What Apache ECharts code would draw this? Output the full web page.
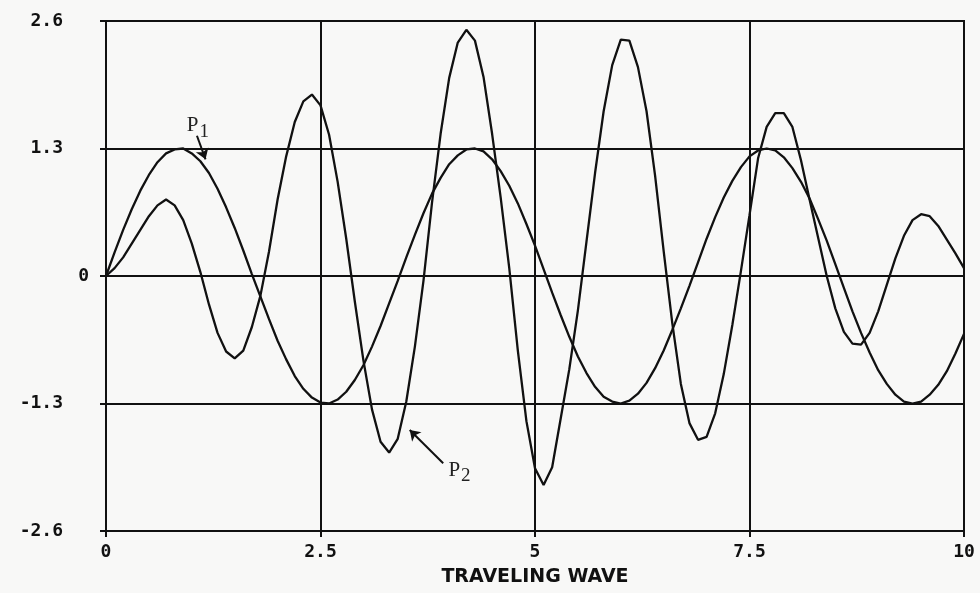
<!DOCTYPE html>
<html>
<head>
<meta charset="utf-8">
<script src="https://cdn.jsdelivr.net/npm/echarts@6/dist/echarts.min.js"></script>
<style>
html,body{margin:0;padding:0;background:#f8f8f7;}
#c{width:980px;height:593px;}
</style>
</head>
<body>
<div id="c"></div>
<script>
const xValues = [0,0.1,0.2,0.3,0.4,0.5,0.6,0.7,0.8,0.9,1,1.1,1.2,1.3,1.4,1.5,1.6,1.7,1.8,1.9,2,2.1,2.2,2.3,2.4,2.5,2.6,2.7,2.8,2.9,3,3.1,3.2,3.3,3.4,3.5,3.6,3.7,3.8,3.9,4,4.1,4.2,4.3,4.4,4.5,4.6,4.7,4.8,4.9,5,5.1,5.2,5.3,5.4,5.5,5.6,5.7,5.8,5.9,6,6.1,6.2,6.3,6.4,6.5,6.6,6.7,6.8,6.9,7,7.1,7.2,7.3,7.4,7.5,7.6,7.7,7.8,7.9,8,8.1,8.2,8.3,8.4,8.5,8.6,8.7,8.8,8.9,9,9.1,9.2,9.3,9.4,9.5,9.6,9.7,9.8,9.9,10];

const p1Values = [0,0.24,0.47,0.68,0.87,1.03,1.16,1.25,1.29,1.30,1.25,1.17,1.05,0.89,0.70,0.49,0.26,0.02,-0.21,-0.44,-0.66,-0.85,-1.02,-1.15,-1.24,-1.29,-1.30,-1.26,-1.18,-1.06,-0.91,-0.72,-0.51,-0.28,-0.05,0.19,0.42,0.64,0.84,1.00,1.14,1.23,1.29,1.30,1.27,1.19,1.07,0.92,0.74,0.53,0.31,0.07,-0.17,-0.40,-0.62,-0.82,-0.99,-1.13,-1.23,-1.28,-1.30,-1.27,-1.20,-1.09,-0.94,-0.76,-0.55,-0.33,-0.10,0.14,0.38,0.60,0.80,0.97,1.11,1.22,1.28,1.30,1.28,1.21,1.10,0.96,0.79,0.58,0.36,0.12,-0.12,-0.36,-0.58,-0.78,-0.96,-1.10,-1.21,-1.28,-1.30,-1.28,-1.21,-1.11,-0.97,-0.79,-0.59];

const p2Values = [0,0.08,0.19,0.33,0.47,0.61,0.72,0.78,0.72,0.57,0.33,0.04,-0.29,-0.58,-0.77,-0.84,-0.76,-0.52,-0.20,0.25,0.78,1.22,1.57,1.78,1.85,1.74,1.44,0.96,0.38,-0.26,-0.86,-1.36,-1.69,-1.80,-1.66,-1.28,-0.72,-0.05,0.75,1.45,2.02,2.38,2.51,2.40,2.03,1.45,0.80,0.08,-0.76,-1.48,-1.96,-2.13,-1.95,-1.45,-0.95,-0.35,0.35,1.05,1.68,2.15,2.41,2.40,2.13,1.68,1.02,0.25,-0.48,-1.10,-1.50,-1.67,-1.64,-1.40,-1.00,-0.50,0.05,0.62,1.20,1.52,1.66,1.66,1.52,1.18,0.78,0.39,0.00,-0.33,-0.57,-0.69,-0.70,-0.58,-0.36,-0.09,0.18,0.41,0.57,0.63,0.61,0.51,0.37,0.23,0.08];

const xTickLabels = ['0','2.5','5','7.5','10'];
const yTickLabels = ['-2.6','-1.3','0','1.3','2.6'];
const xAxisTitle = 'TRAVELING WAVE';

const p1Label = {text:'P', sub:'1', at:[1.07,1.53]};
const p1Leader = [[1.06,1.43],[1.16,1.19]];
const p2Label = {text:'P', sub:'2', at:[4.12,-1.98]};
const p2Leader = [[3.93,-1.91],[3.54,-1.57]];

const ink = '#111';
const tickFont = {fontFamily:'DejaVu Sans Mono', fontWeight:'bold', fontSize:18, color:ink};

function pairs(xs, ys){ return xs.map((x,i)=>[x, ys[i]]); }

const annLabelStyle = {
  show:true,
  formatter: p => '{p|' + p.data.t + '}{s|' + p.data.s + '}',
  rich:{
    p:{fontFamily:'Liberation Serif', fontSize:21, color:'#222'},
    s:{fontFamily:'Liberation Serif', fontSize:19, color:'#222', padding:[12,0,0,1]}
  }
};

const leaderLine = (pts) => ({
  silent:true, symbol:['none','arrow'], symbolSize:10, label:{show:false},
  lineStyle:{color:ink, width:2, type:'solid'},
  itemStyle:{color:ink},
  data:[[{coord:pts[0]},{coord:pts[1]}]]
});

const chart = echarts.init(document.getElementById('c'), null, {renderer:'canvas'});
chart.setOption({
  animation:false,
  backgroundColor:'#f8f8f7',
  grid:{left:106, right:16, top:21, bottom:62, show:true, borderColor:ink, borderWidth:2, backgroundColor:'transparent'},
  xAxis:{
    type:'value', min:0, max:10, interval:2.5,
    name:xAxisTitle, nameLocation:'middle', nameGap:37,
    nameTextStyle:{fontFamily:'DejaVu Sans', fontWeight:'bold', fontSize:19, color:ink},
    axisLine:{show:true, onZero:false, lineStyle:{color:ink, width:2}},
    axisTick:{show:true, inside:false, length:6, lineStyle:{color:ink, width:2}},
    axisLabel:Object.assign({margin:12, formatter:(v,i)=>xTickLabels[i]}, tickFont),
    splitLine:{show:true, lineStyle:{color:ink, width:2}}
  },
  yAxis:[{
    type:'value', min:-2.6, max:2.6, interval:1.3,
    axisLine:{show:true, onZero:false, lineStyle:{color:ink, width:2}},
    axisTick:{show:true, inside:false, length:6, lineStyle:{color:ink, width:2}},
    axisLabel:Object.assign({margin:43, formatter:(v,i)=> i===2 ? '' : yTickLabels[i]}, tickFont),
    splitLine:{show:true, lineStyle:{color:ink, width:2}}
  },{
    type:'value', min:-2.6, max:2.6, interval:1.3, position:'left',
    axisLine:{show:false}, axisTick:{show:false}, splitLine:{show:false},
    axisLabel:Object.assign({margin:17, formatter:(v,i)=> i===2 ? yTickLabels[i] : ''}, tickFont)
  }],
  series:[{
    name:'P1', type:'line', data:pairs(xValues,p1Values), showSymbol:false, smooth:false,
    lineStyle:{color:ink, width:2.3}, z:3,
    markLine:leaderLine(p1Leader),
    markPoint:{
      symbol:'circle', symbolSize:0, silent:true, label:annLabelStyle,
      data:[{coord:p1Label.at, t:p1Label.text, s:p1Label.sub}]
    }
  },{
    name:'P2', type:'line', data:pairs(xValues,p2Values), showSymbol:false, smooth:false,
    lineStyle:{color:ink, width:2.3}, z:3,
    markLine:leaderLine(p2Leader),
    markPoint:{
      symbol:'circle', symbolSize:0, silent:true, label:annLabelStyle,
      data:[{coord:p2Label.at, t:p2Label.text, s:p2Label.sub}]
    }
  }]
});
</script>
</body>
</html>
